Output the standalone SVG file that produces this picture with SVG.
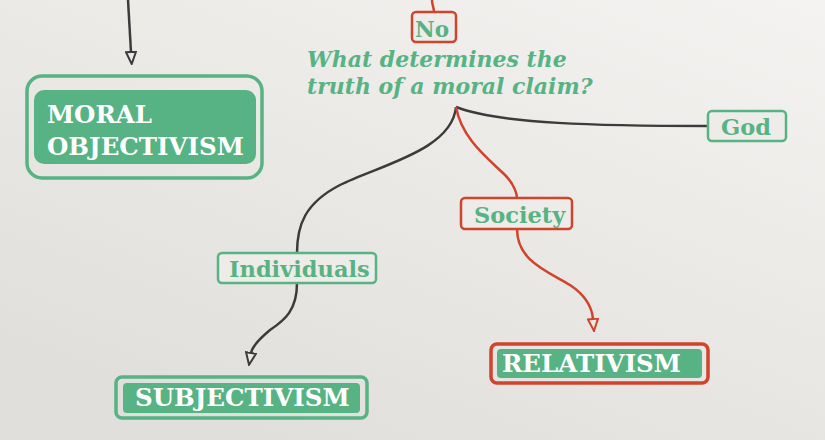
<svg xmlns="http://www.w3.org/2000/svg" width="825" height="440" viewBox="0 0 825 440">
<defs>
<linearGradient id="bg" x1="1" y1="0" x2="0.3" y2="1">
<stop offset="0" stop-color="#f4f3f1"/>
<stop offset="1" stop-color="#e1dfdb"/>
</linearGradient>
<marker id="arrDark" viewBox="0 0 14 12" refX="1" refY="6" markerWidth="14" markerHeight="12" markerUnits="userSpaceOnUse" orient="auto">
<path d="M1,1 L13,6 L1,11 z" fill="#ebe9e5" stroke="#3b3b3b" stroke-width="2"/>
</marker>
<marker id="arrRed" viewBox="0 0 14 12" refX="1" refY="6" markerWidth="14" markerHeight="12" markerUnits="userSpaceOnUse" orient="auto">
<path d="M1,1 L13,6 L1,11 z" fill="#ebe9e5" stroke="#d0432d" stroke-width="2"/>
</marker>
</defs>
<style>
.dark{fill:none;stroke:#3b3b3b;stroke-width:2.5}
.red{fill:none;stroke:#d0432d;stroke-width:2.5}
.frameG{fill:none;stroke:#57b383;stroke-width:3.5}
.frameR{fill:none;stroke:#d0432d;stroke-width:3.5}
.fillG{fill:#57b383}
.lblG{fill:#eeece9;stroke:#57b383;stroke-width:2.5}
.lblR{fill:#eeece9;stroke:#d0432d;stroke-width:2.5}
.big{font-family:"DejaVu Serif","Liberation Serif",serif;font-weight:bold;fill:#ffffff;font-size:24.5px}
.lbl{font-family:"DejaVu Serif","Liberation Serif",serif;font-weight:bold;fill:#57b383;font-size:22.5px}
.q{font-family:"DejaVu Serif","Liberation Serif",serif;font-weight:bold;font-style:italic;fill:#57b383;font-size:22px}
</style>
<rect width="825" height="440" fill="url(#bg)"/>
<g id="connectors">
<path class="dark" d="M128,0 L131,52" marker-end="url(#arrDark)"/>
<path class="red" d="M432,0 C432,5 434,8 434,12"/>
<path class="dark" d="M456,107 C500,124 600,126 708,126"/>
<path class="dark" d="M456,107 C452,150 380,165 340,185 C305,203 297,225 297,253"/>
<path class="dark" d="M297,283 C297,310 285,320 270,330 C258,340 252,347 251,353" marker-end="url(#arrDark)"/>
<path class="red" d="M456,107 C462,140 490,160 505,175 C515,185 517,195 517,198"/>
<path class="red" d="M517,229 C517,260 545,270 570,285 C585,295 592,307 593,319" marker-end="url(#arrRed)"/>
</g>
<g id="moral-objectivism">
<rect class="frameG" x="27" y="76" width="235" height="102" rx="15"/>
<rect class="fillG" x="34" y="90" width="222" height="74" rx="10"/>
<text class="big" x="47" y="123">MORAL</text>
<text class="big" x="47" y="155">OBJECTIVISM</text>
</g>
<g id="no">
<rect class="lblR" x="412" y="12" width="44" height="30" rx="4"/>
<text class="lbl" x="415" y="37" style="font-size:21.5px">No</text>
</g>
<g id="question">
<text class="q" x="307" y="67">What determines the</text>
<text class="q" x="307" y="94">truth of a moral claim?</text>
</g>
<g id="god">
<rect class="lblG" x="708" y="111" width="78" height="30" rx="4"/>
<text class="lbl" x="721" y="135">God</text>
</g>
<g id="individuals">
<rect class="lblG" x="218" y="253" width="158" height="30" rx="4"/>
<text class="lbl" x="229" y="277">Individuals</text>
</g>
<g id="society">
<rect class="lblR" x="461" y="198" width="111" height="31" rx="4"/>
<text class="lbl" x="474" y="223">Society</text>
</g>
<g id="relativism">
<rect class="frameR" x="491" y="344" width="217" height="39" rx="6"/>
<rect class="fillG" x="497" y="349" width="205" height="29" rx="4"/>
<text class="big" x="502" y="372">RELATIVISM</text>
</g>
<g id="subjectivism">
<rect class="frameG" x="116" y="377" width="251" height="41" rx="6"/>
<rect class="fillG" x="123" y="383" width="237" height="30" rx="4"/>
<text class="big" x="135" y="406">SUBJECTIVISM</text>
</g>
</svg>
